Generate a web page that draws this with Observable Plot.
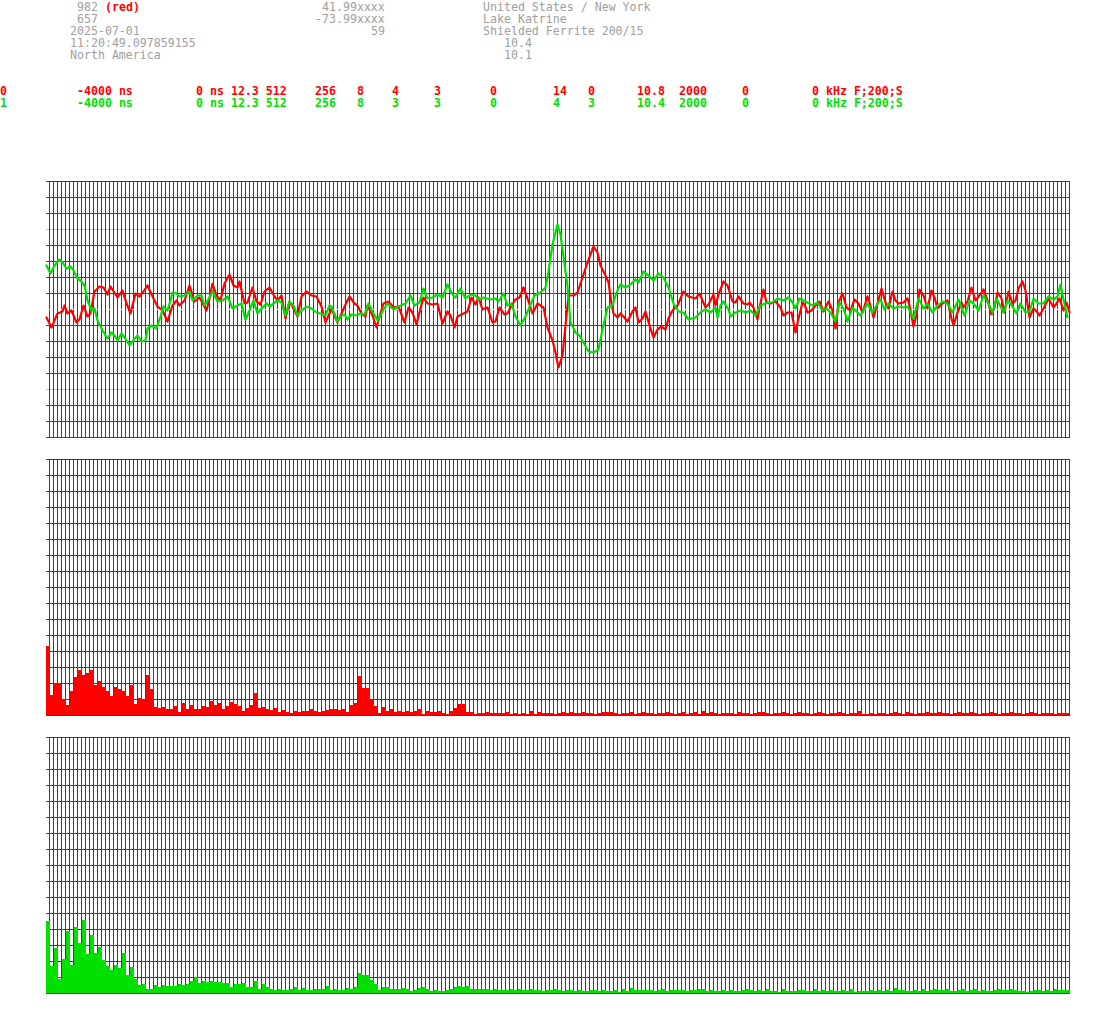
<!DOCTYPE html>
<html><head><meta charset="utf-8">
<script src="https://cdn.jsdelivr.net/npm/d3@7"></script>
<script src="https://cdn.jsdelivr.net/npm/@observablehq/plot@0.6"></script>
<style>
body{margin:0;background:#fff;}
#root{position:relative;width:1095px;height:1015px;overflow:hidden;font-family:"DejaVu Sans Mono",monospace;font-size:11.6px;}
.t{position:absolute;white-space:pre;line-height:12px;}
#root svg{position:absolute;left:0;}
</style></head><body><div id="root"></div>
<script>
// ---------- header texts ----------
const headerLeft = ["982", "657", "2025-07-01", "11:20:49.097859155", "North America"];
const headerTag = "(red)";
const headerMid = ["41.99xxxx", "-73.99xxxx", "59", "", ""];
const headerRight = ["United States / New York", "Lake Katrine", "Shielded Ferrite 200/15", "10.4", "10.1"];

// channel rows
const channelRed = ["0", "-4000 ns", "0 ns 12.3 512", "256", "8", "4", "3", "0", "14", "0", "10.8", "2000", "0", "0 kHz F;200;S"];
const channelGreen = ["1", "-4000 ns", "0 ns 12.3 512", "256", "8", "3", "3", "0", "4", "3", "10.4", "2000", "0", "0 kHz F;200;S"];

// ---------- waveform (time units 0..1024, amplitude units -128..128) ----------
const redT = [0,5,11,16,18,21,25,30,33,37,41,44,48,53,57,61,64,71,76,80,84,89,93,97,101,106,111,116,121,126,130,133,138,143,148,153,160,163,166,170,174,178,183,187,191,193,198,201,206,210,214,218,223,228,231,235,239,243,246,251,255,260,265,270,275,279,283,285,291,295,300,303,308,311,315,319,321,326,330,333,337,342,347,352,358,362,366,370,373,377,381,386,391,396,401,404,408,411,417,421,425,429,432,436,441,446,449,453,458,461,465,469,473,477,481,486,491,497,501,506,509,512,516,519,522,527,531,536,541,547,551,554,559,562,565,567,571,574,577,581,586,589,592,596,599,603,607,611,615,619,622,626,631,637,642,649,653,659,662,667,669,672,677,681,686,689,692,697,701,703,707,711,713,717,720,724,729,734,737,741,745,749,752,756,758,761,765,769,773,777,782,786,789,792,796,800,804,808,812,816,821,823,827,831,835,839,842,846,849,852,857,861,863,867,870,873,877,881,885,888,891,896,901,905,907,911,915,917,921,925,929,933,937,941,945,948,951,955,958,962,966,969,972,976,979,983,987,991,993,997,1002,1007,1010,1013,1017,1020,1023];
const redV = [-8,-18,-4,-2,4,-4,-1,-13,-10,4,-7,-4,18,23,22,15,23,12,19,6,-4,16,13,18,24,13,3,-1,-12,4,9,4,9,24,8,12,-1,11,26,14,9,26,35,24,22,28,6,7,22,8,5,18,22,13,9,14,-9,8,3,-7,13,18,14,13,3,-13,-4,1,-13,-4,7,13,6,4,-4,-7,4,-6,-18,-7,6,8,2,3,-13,2,-3,-15,-3,12,6,5,6,-14,-2,-6,-18,-7,-4,-2,12,5,12,0,2,-13,-12,2,-5,-4,4,10,12,22,11,-4,6,2,-18,-31,-43,-58,-46,-16,14,14,17,32,47,63,57,44,34,27,6,-4,-8,-4,-7,-12,-2,2,-13,-9,-2,-16,-28,-20,-17,-20,-9,-1,4,18,13,11,16,2,5,15,4,15,28,24,8,7,13,6,5,7,2,-10,2,20,7,6,8,2,-6,-3,-3,-23,-9,7,5,-3,-1,4,8,-2,8,-1,-19,7,16,2,-1,10,6,-3,13,7,-8,6,21,7,1,18,9,6,7,11,4,-17,-6,20,14,1,19,12,1,6,9,-9,-16,-3,7,2,8,22,9,14,20,9,-5,2,17,11,-3,18,6,9,21,28,19,-8,1,-3,-6,1,11,2,6,11,-1,7,-3];
const greenT = [0,4,8,13,16,20,24,27,31,35,38,41,45,48,51,56,61,65,68,71,75,78,83,86,91,95,99,101,105,110,114,117,121,124,126,130,133,138,143,146,151,155,158,163,166,171,176,181,186,191,195,199,203,207,211,215,220,223,227,231,235,239,243,247,251,255,260,265,270,274,279,283,285,291,295,298,301,305,310,314,318,322,326,331,335,337,341,347,352,359,364,368,373,377,381,386,391,396,401,406,409,414,419,424,429,432,437,444,449,452,457,461,465,469,474,479,484,488,494,499,502,506,511,514,517,521,524,529,533,537,542,547,552,556,561,566,570,574,579,584,589,592,597,602,607,612,617,622,627,632,637,642,649,655,659,664,669,671,674,677,682,684,689,694,699,704,709,714,721,726,731,737,742,746,749,753,757,761,766,771,776,780,784,789,793,797,801,806,811,814,821,826,830,834,838,842,847,852,857,861,867,872,877,881,886,891,896,901,906,912,918,923,927,932,937,942,946,950,954,957,961,966,970,974,979,983,987,992,997,1002,1007,1011,1014,1017,1021];
const greenV = [44,36,44,50,47,41,43,39,31,28,24,9,-1,1,-11,-21,-29,-23,-26,-31,-24,-28,-36,-32,-26,-32,-31,-19,-16,-19,-7,3,-1,9,17,16,13,14,18,9,14,14,4,12,18,8,9,13,1,4,6,-10,-1,9,-4,1,6,3,6,9,7,-6,8,4,-6,-1,3,1,-3,-4,-6,4,3,-12,-6,-5,-10,-5,-6,-4,-5,6,-2,-11,-4,0,6,0,3,6,14,4,7,21,11,12,15,12,25,15,12,21,11,15,14,10,12,10,11,8,16,4,6,-7,-16,-7,5,14,17,22,38,65,85,75,53,23,-13,-23,-26,-33,-42,-43,-40,-20,2,4,17,25,22,25,30,27,38,34,29,36,32,22,6,-2,-3,-10,-8,-2,0,-3,2,-8,4,8,0,-7,-3,-1,-3,-1,-6,4,7,7,11,9,12,7,1,11,9,7,4,7,-1,1,-3,-12,7,1,-12,2,-3,-6,6,-3,4,10,0,6,1,3,2,3,-9,11,1,6,-3,4,8,6,-3,10,-6,9,6,-1,14,6,-3,11,3,-3,9,3,-4,6,-3,-2,11,6,6,13,10,13,25,10,-8];
const triggerT = [507];

// ---------- spectra (256 bins each) ----------
const redBars = [69,20,32,32,16,10,24,38,45,40, 42,45,30,34,28,24,19,28,26,24, 19,30,11,17,16,40,26,8,7,8, 6,6,9,3,12,6,10,6,6,9, 8,14,10,12,6,9,13,11,9,4, 7,10,22,7,8,6,5,7,3,5, 3,2,4,3,4,4,6,4,3,4, 5,6,6,5,6,3,10,12,39,27, 27,16,9,2,8,4,6,3,4,
 3,4,3,4,6,1,4,3,3,4,2,1, 4,7,11,11,3,3,1,2,2,3, 2,2,2,2,3,1,2,1,2,1, 4,1,3,2,2,2,1,2,3,2, 3,2,2,3,2,2,1,2,3,3, 3,2,1,2,2,3,1,2,3,2, 2,1,2,2,3,2,1,2,3,1, 2,3,1,4,2,3,2,1,2,2, 2,1,3,2,2,1,2,3,3,2, 1,2,2,3,2,1,2,3,2,2, 1,2,3,2,1,2,2,3,2,1, 2,2,4,1,1,2,1,2,2,1, 2,3,2,1,3,2,1,2,2,3, 2,2,3,2,2,1,2,3,2,2, 3,2,1,2,2,3,2,1,2,2, 3,2,2,1,2,3,2,1,2,2, 2,1,2,2,2];
const greenBars = [72,27,45,14,34,62,28,66,50,73, 39,58,40,46,33,27,23,28,25,40, 18,26,14,8,9,4,4,8,6,8, 7,7,7,9,8,9,12,16,10,12, 11,12,11,11,10,10,6,9,9,10, 6,6,12,4,9,6,4,3,4,3, 3,4,6,3,5,3,3,4,4,4, 7,3,4,3,3,5,4,6,20,18, 18,13,9,3,6,6,4,4,4,
 5,4,2,3,5,6,4,2,3,2,2,3, 4,6,7,6,7,4,4,4,4,4, 3,4,3,3,3,4,3,4,3,3, 4,3,3,2,3,3,4,3,2,3, 3,2,3,2,2,3,3,2,3,2, 2,3,1,4,2,5,3,3,3,3, 3,2,3,4,2,3,3,3,3,2, 3,3,4,4,2,3,2,2,3,2, 3,2,2,3,4,3,2,3,2,4, 2,2,1,4,2,2,2,3,3,2, 2,4,2,3,2,3,2,2,3,2, 4,1,2,2,2,3,2,3,2,3, 2,5,3,3,2,2,3,2,4,2, 3,4,3,3,4,2,2,3,4,2, 3,4,2,3,2,2,3,4,3,3, 4,3,2,2,1,2,3,3,2,3, 2,4,3,3,3];

// ---------- colours ----------
const RED = "#ff0000", GREEN = "#00e000", GRID = "#404040", LIGHT = "#c0c0c0", GREY = "#a0a0a0";

const root = document.getElementById("root");
function text(str, left, top, color, bold) {
  const d = document.createElement("div");
  d.className = "t";
  d.textContent = str;
  d.style.left = left + "px";
  d.style.top = top + "px";
  d.style.color = color;
  if (bold) d.style.fontWeight = "bold";
  root.appendChild(d);
  return d;
}
const CW = 7;
// header block
const leftCols = [11, 11, 10, 10, 10];
const rightCols = [69, 69, 69, 72, 72];
headerLeft.forEach((s, i) => text(s, leftCols[i] * CW, 1 + 12 * i, GREY, false));
text(headerTag, 15 * CW, 1, RED, true);
headerMid.forEach((s, i) => { if (s) text(s, (55 - s.length) * CW, 1 + 12 * i, GREY, false); });
headerRight.forEach((s, i) => text(s, rightCols[i] * CW, 1 + 12 * i, GREY, false));
// channel rows
const rowCols = [0, 11, 28, 45, 51, 56, 62, 70, 79, 84, 91, 97, 106, 116];
channelRed.forEach((s, i) => text(s, rowCols[i] * CW, 85, RED, true));
channelGreen.forEach((s, i) => text(s, rowCols[i] * CW, 97, GREEN, true));

// ---------- panels ----------
function place(svg, top) {
  svg.style.top = (top - 1) + "px";
  root.appendChild(svg);
}
const crisp = {shapeRendering: "crispEdges"};

// waveform panel
const redData = redT.map((t, i) => ({t, v: redV[i]}));
const greenData = greenT.map((t, i) => ({t, v: greenV[i]}));
const wave = Plot.plot({
  width: 1095, height: 258, marginLeft: 46, marginRight: 25, marginTop: 1, marginBottom: 1,
  style: {background: "transparent"},
  x: {domain: [0, 1024], axis: null},
  y: {domain: [-128, 128], axis: null},
  marks: [
    Plot.ruleY(d3.range(-128, 129, 16).filter(v => v !== 0 && Math.abs(v) !== 80), {x1: 0, x2: 1024, stroke: GRID, ...crisp}),
    Plot.ruleY([80, -80], {x1: 0, x2: 1024, stroke: LIGHT, ...crisp}),
    Plot.ruleX(d3.range(3, 1024, 4), {y1: -128, y2: 128, stroke: GRID, ...crisp}),
    Plot.ruleY([0], {x1: 0, x2: 1024, stroke: "#ffffff", strokeDasharray: "7,5", ...crisp}),
    Plot.ruleX(triggerT, {y1: -128, y2: 128, stroke: GREEN, ...crisp}),
    Plot.line(redData, {x: "t", y: "v", stroke: RED, strokeWidth: 2.2, strokeLinejoin: "round"}),
    Plot.line(greenData, {x: "t", y: "v", stroke: GREEN, strokeWidth: 2.2, strokeLinejoin: "round"})
  ]
});
place(wave, 181);

function spectrum(values, color, top) {
  const data = values.map((v, i) => ({i, v}));
  const svg = Plot.plot({
    width: 1095, height: 258, marginLeft: 46, marginRight: 25, marginTop: 1, marginBottom: 1,
    style: {background: "transparent"},
    x: {domain: [0, 256], axis: null},
    y: {domain: [0, 256], axis: null},
    marks: [
      Plot.ruleY(d3.range(0, 257, 16), {x1: 0, x2: 256, stroke: GRID, ...crisp}),
      Plot.ruleX(d3.range(0.75, 256, 1), {y1: 0, y2: 256, stroke: GRID, ...crisp}),
      Plot.rectY(data, {x1: d => d.i, x2: d => d.i + 1, y1: 0, y2: "v", fill: color, ...crisp})
    ]
  });
  place(svg, top);
}
spectrum(redBars, RED, 459);
spectrum(greenBars, GREEN, 737);
</script></body></html>
